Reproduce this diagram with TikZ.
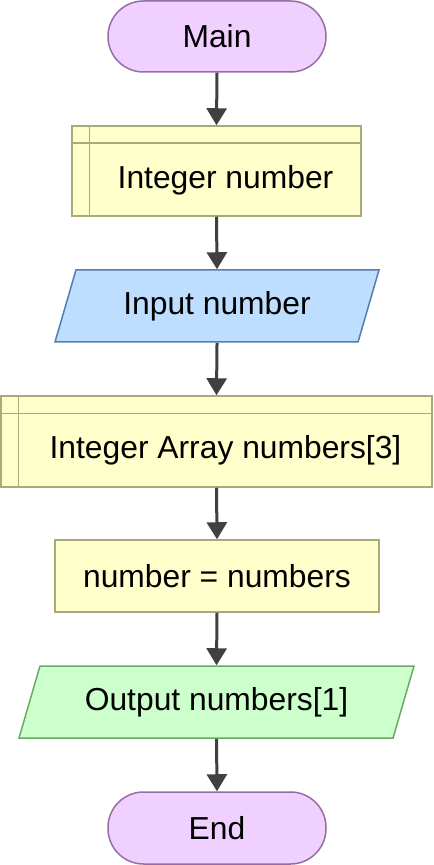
\documentclass[tikz,border=0pt]{standalone}
\usepackage{fontspec}
\setmainfont{Liberation Sans}
\usepackage{xcolor}
\usetikzlibrary{arrows.meta,shapes.geometric}

\definecolor{termfill}{RGB}{240,208,255}
\definecolor{termline}{RGB}{150,110,165}
\definecolor{declfill}{RGB}{255,255,204}
\definecolor{declline}{RGB}{170,170,120}
\definecolor{infill}{RGB}{190,222,255}
\definecolor{inline}{RGB}{85,125,175}
\definecolor{outfill}{RGB}{204,255,204}
\definecolor{outline}{RGB}{105,170,105}
\definecolor{flowline}{RGB}{64,64,64}

\tikzset{
  term/.style={draw=termline,fill=termfill,line width=0.75pt,rounded corners=17.75pt,
    minimum width=109pt,minimum height=35.5pt},
  decl/.style={draw=declline,fill=declfill,line width=0.75pt},
  proc/.style={draw=declline,fill=declfill,line width=0.75pt,
    minimum width=162pt,minimum height=36pt},
  io/.style={trapezium,trapezium left angle=64,trapezium right angle=116,
    trapezium stretches body,line width=0.75pt,minimum height=36pt,inner xsep=0pt},
  flow/.style={draw=flowline,line width=1.5pt,-{Triangle[width=10pt,length=8.5pt]}},
}

\begin{document}
\begin{tikzpicture}[x=0.5pt,y=-0.5pt,every node/.style={font=\fontsize{15.9}{19}\selectfont}]
\useasboundingbox (0,0) rectangle (433,865);

\node[term] (main) at (217,36.5) {Main};

% declaration: Integer number
\node[decl,minimum width=144.5pt,minimum height=45pt] (intnum) at (216.5,171) {};
\draw[declline,line width=0.75pt] ([xshift=9pt]intnum.north west) -- ([xshift=9pt]intnum.south west);
\draw[declline,line width=0.75pt] ([yshift=-9pt]intnum.north west) -- ([yshift=-9pt]intnum.north east);
\node (intnumtext) at (225.5,180) {Integer number};

\node[io,draw=inline,fill=infill,minimum width=162pt] (input) at (217,306) {Input number};

% declaration: Integer Array numbers[3]
\node[decl,minimum width=215.5pt,minimum height=45.5pt] (arr) at (216.5,441.5) {};
\draw[declline,line width=0.75pt] ([xshift=9pt]arr.north west) -- ([xshift=9pt]arr.south west);
\draw[declline,line width=0.75pt] ([yshift=-9pt]arr.north west) -- ([yshift=-9pt]arr.north east);
\node (arrtext) at (225.5,450.5) {Integer Array numbers[3]};

\node[proc] (assign) at (217,576) {number = numbers};

\node[io,draw=outline,fill=outfill,minimum width=197.5pt] (output) at (216.5,702) {Output numbers[1]};

\node[term,minimum height=36pt] (end) at (217,828) {End};

\draw[flow] (main.south) -- (intnum.north);
\draw[flow] (intnum.south) -- (input.north);
\draw[flow] (input.south) -- (arr.north);
\draw[flow] (arr.south) -- (assign.north);
\draw[flow] (assign.south) -- (output.north);
\draw[flow] (output.south) -- (end.north);
\end{tikzpicture}
\end{document}
